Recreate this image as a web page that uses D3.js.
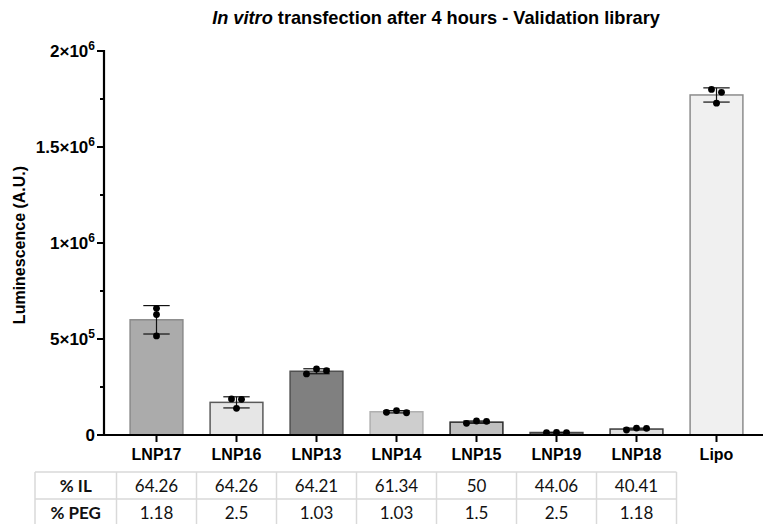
<!DOCTYPE html>
<html>
<head>
<meta charset="utf-8">
<script src="https://cdn.jsdelivr.net/npm/d3@7"></script>
<style>
  html, body { margin: 0; padding: 0; background: #fff; }
  svg { display: block; }
</style>
</head>
<body>
<svg id="chart" width="763" height="524"></svg>
<script>
// Luminescence after 4 h, per formulation (mean ± SD, n = 3 replicates)
const categories = ["LNP17", "LNP16", "LNP13", "LNP14", "LNP15", "LNP19", "LNP18", "Lipo"];
const means = [600000, 170000, 332000, 121000, 67000, 13000, 31000, 1771000];
const sds = [74000, 29000, 13000, 6000, 6000, 1000, 5000, 37000];
const replicates = [
  [660000, 627000, 516000],
  [188000, 186000, 139000],
  [318000, 344000, 335000],
  [118000, 127000, 116000],
  [61000, 73000, 71000],
  [12000, 13000, 12000],
  [26000, 36000, 35000],
  [1800000, 1785000, 1728000]
];
const yTicks = [0, 500000, 1000000, 1500000, 2000000];
const yMinorTicks = [250000, 750000, 1250000, 1750000];

// Composition table under the axis (Lipo has no entry)
const tableRows = ["% IL", "% PEG"];
const ilPct = ["64.26", "64.26", "64.21", "61.34", "50", "44.06", "40.41"];
const pegPct = ["1.18", "2.5", "1.03", "1.03", "1.5", "2.5", "1.18"];

// Bar styling
const barFills = ["#ababab", "#e6e6e6", "#808080", "#cecece", "#c0c0c0", "#6e6e6e", "#e0e0e0", "#f0f0f0"];
const barStrokes = ["#8a8a8a", "#5a5a5a", "#505050", "#b0b0b0", "#2a2a2a", "#444444", "#3a3a3a", "#8c8c8c"];

const svg = d3.select("#chart");
const W = 763;
const plot = { left: 104, top: 51, bottom: 435 };
const sans = "'Liberation Sans', Arial, Helvetica, sans-serif";
const tableFont = "Lato, 'Open Sans', sans-serif";

const x = d3.scaleBand()
  .domain(categories)
  .range([116.5, 756.5])
  .paddingInner(0.34)
  .paddingOuter(0.17);

const y = d3.scaleLinear()
  .domain([0, 2000000])
  .range([plot.bottom, plot.top]);

// Title
svg.append("text")
  .attr("x", 436)
  .attr("y", 24)
  .attr("text-anchor", "middle")
  .attr("font-family", sans)
  .attr("font-size", 18.2)
  .attr("font-weight", "bold")
  .call(t => {
    t.append("tspan").attr("font-style", "italic").text("In vitro");
    t.append("tspan").text(" transfection after 4 hours - Validation library");
  });

// Y axis title
svg.append("text")
  .attr("transform", `translate(25,${(plot.top + plot.bottom) / 2 + 2}) rotate(-90)`)
  .attr("text-anchor", "middle")
  .attr("font-family", sans)
  .attr("font-size", 16)
  .attr("font-weight", "bold")
  .text("Luminescence (A.U.)");

// Bars
const g = svg.append("g");
g.selectAll("rect.bar")
  .data(categories)
  .join("rect")
  .attr("class", "bar")
  .attr("x", d => x(d))
  .attr("width", x.bandwidth())
  .attr("y", (d, i) => y(means[i]))
  .attr("height", (d, i) => y(0) - y(means[i]))
  .attr("fill", (d, i) => barFills[i])
  .attr("stroke", (d, i) => barStrokes[i])
  .attr("stroke-width", 1.5);

// Error bars (mean ± SD)
const capHalf = x.bandwidth() / 4;
categories.forEach((c, i) => {
  const cx = x(c) + x.bandwidth() / 2;
  const hi = y(means[i] + sds[i]);
  const lo = y(means[i] - sds[i]);
  const eg = g.append("g").attr("stroke", "#111").attr("stroke-width", 1.2);
  eg.append("line").attr("x1", cx).attr("x2", cx).attr("y1", hi).attr("y2", lo);
  eg.append("line").attr("x1", cx - capHalf).attr("x2", cx + capHalf).attr("y1", hi).attr("y2", hi);
  eg.append("line").attr("x1", cx - capHalf).attr("x2", cx + capHalf).attr("y1", lo).attr("y2", lo);
});

// Replicate points: points that sit within a few pixels vertically share a row
// and are spread symmetrically around the bar centre
const dotR = 3.4, rowGap = 5, spread = 10;
categories.forEach((c, i) => {
  const cx = x(c) + x.bandwidth() / 2;
  const pts = replicates[i].map((v, k) => ({ v, k, py: y(v) }));
  const sorted = pts.slice().sort((a, b) => a.py - b.py);
  const rows = [];
  sorted.forEach(p => {
    const last = rows[rows.length - 1];
    if (last && p.py - last[last.length - 1].py < rowGap) last.push(p);
    else rows.push([p]);
  });
  rows.forEach(row => {
    row.sort((a, b) => a.k - b.k);
    row.forEach((p, j) => { p.px = cx + (j - (row.length - 1) / 2) * spread; });
  });
  g.selectAll(null)
    .data(pts)
    .join("circle")
    .attr("cx", p => p.px)
    .attr("cy", p => p.py)
    .attr("r", dotR)
    .attr("fill", "#000");
});

// Y axis
const yAxis = svg.append("g");
yAxis.append("line")
  .attr("x1", plot.left).attr("x2", plot.left)
  .attr("y1", y(2000000) - 1).attr("y2", y(0))
  .attr("stroke", "#000").attr("stroke-width", 2.2);
yAxis.selectAll("line.major")
  .data(yTicks)
  .join("line")
  .attr("class", "major")
  .attr("x1", plot.left - 7).attr("x2", plot.left)
  .attr("y1", d => y(d)).attr("y2", d => y(d))
  .attr("stroke", "#000").attr("stroke-width", 2);
yAxis.selectAll("line.minor")
  .data(yMinorTicks)
  .join("line")
  .attr("class", "minor")
  .attr("x1", plot.left - 4).attr("x2", plot.left)
  .attr("y1", d => y(d)).attr("y2", d => y(d))
  .attr("stroke", "#000").attr("stroke-width", 2);

// Tick labels written as m×10^e
function sciParts(v) {
  if (v === 0) return null;
  const e = Math.floor(Math.log10(v));
  const m = +(v / Math.pow(10, e)).toFixed(2);
  return { m, e };
}
yAxis.selectAll("text.tick")
  .data(yTicks)
  .join("text")
  .attr("class", "tick")
  .attr("x", plot.left - 9)
  .attr("y", d => y(d) + 6)
  .attr("text-anchor", "end")
  .attr("font-family", sans)
  .attr("font-size", 17)
  .attr("font-weight", "bold")
  .each(function (d) {
    const t = d3.select(this);
    const p = sciParts(d);
    if (!p) { t.text("0"); return; }
    t.append("tspan").text(`${p.m}×10`);
    t.append("tspan").attr("font-size", 12).attr("dy", -7).text(p.e);
  });

// X axis
const xAxis = svg.append("g");
xAxis.append("line")
  .attr("x1", plot.left - 1).attr("x2", W)
  .attr("y1", y(0)).attr("y2", y(0))
  .attr("stroke", "#000").attr("stroke-width", 2.2);
xAxis.selectAll("line.tick")
  .data(categories)
  .join("line")
  .attr("class", "tick")
  .attr("x1", d => x(d) + x.bandwidth() / 2)
  .attr("x2", d => x(d) + x.bandwidth() / 2)
  .attr("y1", y(0)).attr("y2", y(0) + 7)
  .attr("stroke", "#000").attr("stroke-width", 2);
xAxis.selectAll("text.cat")
  .data(categories)
  .join("text")
  .attr("class", "cat")
  .attr("x", d => x(d) + x.bandwidth() / 2)
  .attr("y", 460)
  .attr("text-anchor", "middle")
  .attr("font-family", sans)
  .attr("font-size", 16)
  .attr("font-weight", "bold")
  .text(d => d);

// Composition table
const table = svg.append("g");
const rowTop = 472, rowH = 27, headLeft = 35;
const colLeft = i => x(categories[i]) - x.step() * x.paddingInner() / 2;
const colRight = i => colLeft(i) + x.step();
const nCols = ilPct.length;
const tableRight = colRight(nCols - 1);
const gridColor = "#d9d9d9";

// horizontal rules
[0, 1, 2].forEach(r => {
  table.append("line")
    .attr("x1", headLeft).attr("x2", tableRight)
    .attr("y1", rowTop + r * rowH).attr("y2", rowTop + r * rowH)
    .attr("stroke", gridColor).attr("stroke-width", 1.5);
});
// vertical rules
const vxs = [headLeft].concat(d3.range(nCols).map(colLeft), [tableRight]);
vxs.forEach(vx => {
  table.append("line")
    .attr("x1", vx).attr("x2", vx)
    .attr("y1", rowTop).attr("y2", rowTop + 2 * rowH)
    .attr("stroke", gridColor).attr("stroke-width", 1.5);
});

const rowValues = [ilPct, pegPct];
tableRows.forEach((label, r) => {
  const cy = rowTop + r * rowH + rowH / 2 + 6;
  table.append("text")
    .attr("x", (headLeft + colLeft(0)) / 2)
    .attr("y", cy)
    .attr("text-anchor", "middle")
    .attr("font-family", tableFont)
    .attr("font-size", 17)
    .attr("font-weight", "bold")
    .attr("fill", "#111")
    .text(label);
  table.selectAll(null)
    .data(rowValues[r])
    .join("text")
    .attr("x", (d, i) => x(categories[i]) + x.bandwidth() / 2)
    .attr("y", cy)
    .attr("text-anchor", "middle")
    .attr("font-family", tableFont)
    .attr("font-size", 17)
    .attr("fill", "#111")
    .text(d => d);
});
</script>
</body>
</html>
